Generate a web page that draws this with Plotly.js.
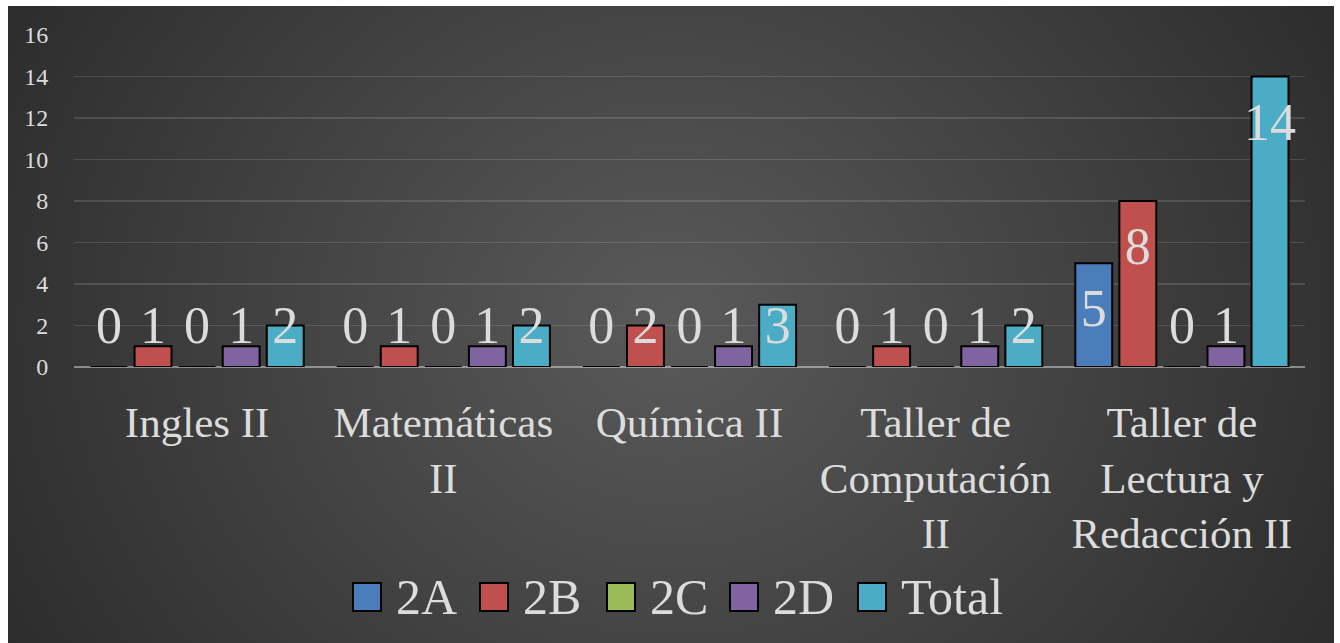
<!DOCTYPE html>
<html>
<head>
<meta charset="utf-8">
<script src="https://cdn.plot.ly/plotly-3.0.1.min.js"></script>
<style>
  html, body { margin: 0; padding: 0; background: #ffffff; }
  #frame {
    position: absolute; left: 8px; top: 6px; width: 1326px; height: 637px;
    background: radial-gradient(ellipse 60% 110% at 50% 50%, #5a5a5a 0%, #2a2a2a 100%);
  }
  #chart { width: 1326px; height: 637px; }
</style>
</head>
<body>
<div id="frame"><div id="chart"></div></div>
<script>
const categories = ["Ingles II", "Matemáticas<br>II", "Química II", "Taller de<br>Computación<br>II", "Taller de<br>Lectura y<br>Redacción II"];
const seriesNames = ["2A", "2B", "2C", "2D", "Total"];
const s2A = [0, 0, 0, 0, 5];
const s2B = [1, 1, 2, 1, 8];
const s2C = [0, 0, 0, 0, 0];
const s2D = [1, 1, 1, 1, 1];
const sTotal = [2, 2, 3, 2, 14];
const seriesValues = [s2A, s2B, s2C, s2D, sTotal];
const colors = ["#4a7ebb", "#c0504d", "#9bbb59", "#8064a2", "#4bacc6"];
const yTicks = [0, 2, 4, 6, 8, 10, 12, 14, 16];

// layout geometry (frame pixels)
const W = 1326, H = 637;
const M = { l: 66, r: 29, t: 29, b: 276 };
const plotW = W - M.l - M.r, plotH = H - M.t - M.b;
const px2x = p => (p - M.l) / plotW;          // frame px -> paper x
const py2y = p => (H - M.b - p) / plotH;       // frame px -> paper y
const legendBoxLeft = [345, 472, 599, 722, 850]; // frame px
const legendBox = 28, legendMidY = 591, legendTextGap = 13;

const slot = 0.179, barW = 0.150;
const serif = "Liberation Serif, DejaVu Serif, serif";
const txtColor = "#dcdcdc";
const catIdx = categories.map((_, i) => i);

const traces = [];
seriesValues.forEach((vals, k) => {
  const off = (k - 2) * slot;
  traces.push({
    type: "bar", name: seriesNames[k], x: catIdx, y: vals,
    width: barW, offset: off - barW / 2, showlegend: false,
    marker: { color: colors[k], line: { color: "#000000", width: 2 } },
    hoverinfo: "skip"
  });
});
seriesValues.forEach((vals, k) => {
  const off = (k - 2) * slot;
  traces.push({
    type: "scatter", mode: "text", showlegend: false, hoverinfo: "skip",
    x: catIdx.map(i => i + off),
    y: vals.map(v => Math.max(v - 2.42, 1.8)),
    text: vals.map(String),
    textposition: "middle center",
    textfont: { family: serif, size: 52, color: txtColor },
    cliponaxis: false
  });
});

const shapes = seriesNames.map((n, k) => ({
  type: "rect", xref: "paper", yref: "paper",
  x0: px2x(legendBoxLeft[k]), x1: px2x(legendBoxLeft[k] + legendBox),
  y0: py2y(legendMidY + legendBox / 2), y1: py2y(legendMidY - legendBox / 2),
  fillcolor: colors[k], line: { color: "#000000", width: 2 }
}));
const annotations = seriesNames.map((n, k) => ({
  xref: "paper", yref: "paper",
  x: px2x(legendBoxLeft[k] + legendBox + legendTextGap), y: py2y(legendMidY),
  xanchor: "left", yanchor: "middle", showarrow: false, text: n,
  font: { family: serif, size: 50, color: txtColor }
}));

const layout = {
  width: W, height: H,
  paper_bgcolor: "rgba(0,0,0,0)", plot_bgcolor: "rgba(0,0,0,0)",
  margin: M,
  barmode: "overlay",
  showlegend: false,
  shapes: shapes,
  annotations: annotations,
  xaxis: {
    range: [-0.5, 4.5], tickvals: catIdx, ticktext: categories,
    showgrid: false, zeroline: false, showline: false,
    ticks: "outside", ticklen: 17, tickcolor: "rgba(0,0,0,0)",
    tickfont: { family: serif, size: 43, color: txtColor },
    automargin: false, fixedrange: true
  },
  yaxis: {
    range: [0, 16], tickvals: yTicks, ticktext: yTicks.map(String),
    showgrid: true, gridcolor: "rgba(255,255,255,0.13)", gridwidth: 1.5,
    zeroline: true, zerolinecolor: "rgba(255,255,255,0.42)", zerolinewidth: 2.5,
    showline: false,
    ticks: "outside", ticklen: 20, tickcolor: "rgba(0,0,0,0)",
    tickfont: { family: serif, size: 24, color: txtColor },
    automargin: false, fixedrange: true
  }
};

Plotly.newPlot("chart", traces, layout, { displayModeBar: false, staticPlot: true });
</script>
</body>
</html>
